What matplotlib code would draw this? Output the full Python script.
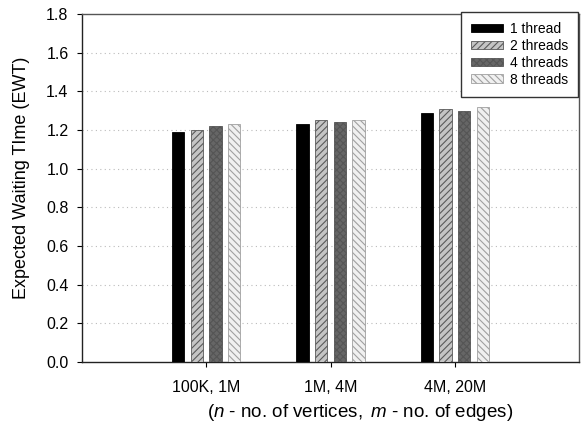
import numpy as np
import matplotlib; matplotlib.use("Agg")
import matplotlib.pyplot as plt

plt.rcParams["font.family"] = ["Liberation Sans", "DejaVu Sans"]
plt.rcParams["mathtext.fontset"] = "custom"
plt.rcParams["mathtext.it"] = "Liberation Sans:italic"
plt.rcParams["mathtext.rm"] = "Liberation Sans"
plt.rcParams["hatch.linewidth"] = 0.8

groups = ["100K, 1M", "1M, 4M", "4M, 20M"]
series = ["1 thread", "2 threads", "4 threads", "8 threads"]
ewt_1 = [1.19, 1.23, 1.29]
ewt_2 = [1.20, 1.25, 1.31]
ewt_4 = [1.22, 1.24, 1.30]
ewt_8 = [1.23, 1.25, 1.32]
yticks = [0.0, 0.2, 0.4, 0.6, 0.8, 1.0, 1.2, 1.4, 1.6, 1.8]

styles = [
    dict(facecolor="black", edgecolor="black", hatch=None),
    dict(facecolor="#c4c4c4", edgecolor="#5a5a5a", hatch="/////"),
    dict(facecolor="#666666", edgecolor="#555555", hatch="xxxxx"),
    dict(facecolor="#f0f0f0", edgecolor="#a0a0a0", hatch="\\\\\\\\\\"),
]
offsets = [-0.225, -0.075, 0.075, 0.225]

fig = plt.figure(figsize=(5.81, 4.23), dpi=100)
ax = fig.add_axes([0.141, 0.144, 0.856, 0.823])
x = np.arange(1, len(groups) + 1)
for vals, name, st, off in zip([ewt_1, ewt_2, ewt_4, ewt_8], series, styles, offsets):
    ax.bar(x + off, vals, width=0.1, label=name, linewidth=0.6, zorder=3, **st)

for t in yticks[1:-1]:
    ax.axhline(t, color="#bbbbbb", ls=(0, (1, 3)), lw=0.8, zorder=1)
ax.set_xlim(0, 4)
ax.set_ylim(0, 1.8)
ax.set_yticks(yticks)
ax.set_yticklabels([f"{t:.1f}" for t in yticks])
ax.set_xticks(x)
ax.set_xticklabels(groups)
ax.tick_params(labelsize=11.5, direction="out", length=3.6, width=0.8)
ax.tick_params(axis="y", pad=6)
ax.tick_params(axis="x", pad=9)
for s in ["left", "bottom"]:
    ax.spines[s].set_color("#222222")
    ax.spines[s].set_linewidth(1.0)
for s in ["top", "right"]:
    ax.spines[s].set_color("#555555")
    ax.spines[s].set_linewidth(1.0)

ax.set_ylabel("Expected Waiting TIme (EWT)", fontsize=13)
ax.yaxis.set_label_coords(-0.105, 0.53)
ax.set_xlabel(r"$\mathit{(n}$ - no. of vertices$\mathit{,\ m}$ - no. of edges$\mathit{)}$",
              fontsize=13.5, labelpad=5)
ax.xaxis.set_label_coords(0.56, -0.115)

leg = ax.legend(loc="upper right", bbox_to_anchor=(0.998, 1.005), borderaxespad=0,
                fontsize=10, fancybox=False, edgecolor="#333333", framealpha=1,
                handlelength=2.3, handleheight=0.55, handletextpad=0.5,
                labelspacing=0.2, borderpad=0.72)
leg.get_frame().set_linewidth(1.0)

plt.savefig("out.png", dpi=100)
